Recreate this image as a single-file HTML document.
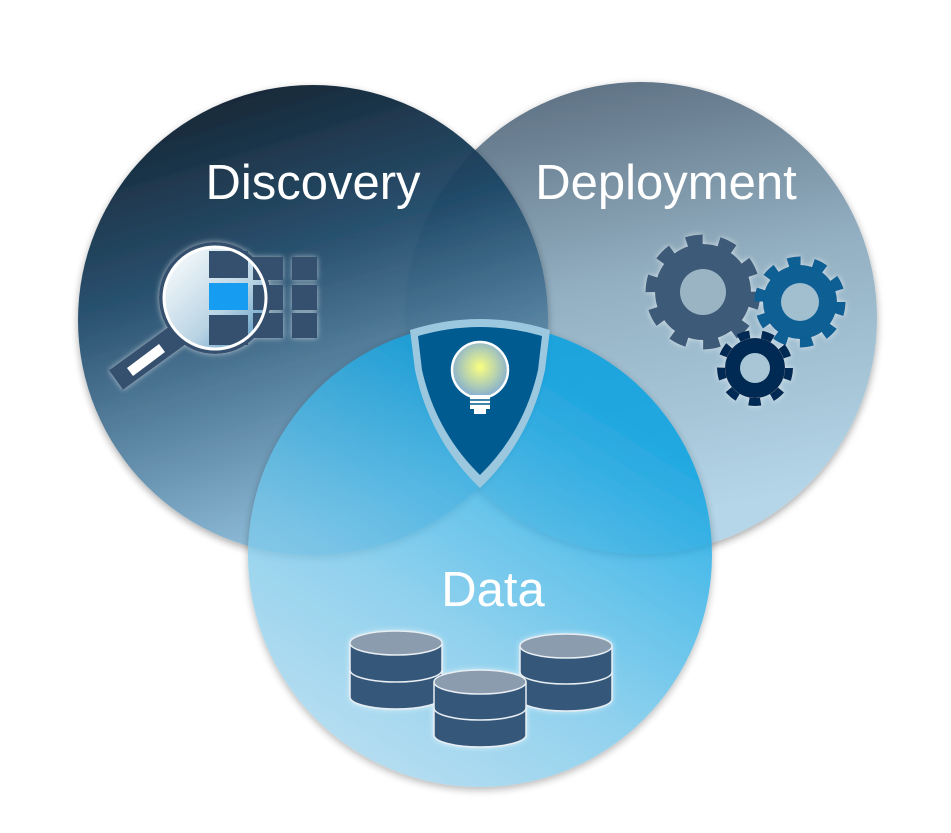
<!DOCTYPE html>
<html><head><style>body{margin:0;background:#fff}svg{display:block}text{font-family:"Liberation Sans",sans-serif;fill:#fff}</style></head><body>
<svg width="951" height="833" viewBox="0 0 951 833">
<defs>
<linearGradient id="gA" x1="0" y1="0" x2="0.3" y2="1"><stop offset="0" stop-color="#03101b"/><stop offset="0.45" stop-color="#1f4868"/><stop offset="1" stop-color="#86b6d4"/></linearGradient>
<linearGradient id="gB" x1="0" y1="0" x2="0.2" y2="1"><stop offset="0" stop-color="#56687a"/><stop offset="0.5" stop-color="#93b0c2"/><stop offset="1" stop-color="#b4d6e8"/></linearGradient>
<linearGradient id="gC" x1="0.8" y1="0.2" x2="0.3" y2="1"><stop offset="0" stop-color="#00a0e2"/><stop offset="0.6" stop-color="#74c6ea"/><stop offset="1" stop-color="#a6d6ee"/></linearGradient>
<radialGradient id="bulb" cx="0.5" cy="0.45" r="0.5"><stop offset="0" stop-color="#faff80"/><stop offset="1" stop-color="#8cb4cc"/></radialGradient>
<linearGradient id="lens" x1="0" y1="0" x2="1" y2="1"><stop offset="0" stop-color="#fff"/><stop offset="0.6" stop-color="#b9d4e4"/><stop offset="1" stop-color="#4b8fbd"/></linearGradient>
<filter id="sh" x="-20%" y="-20%" width="140%" height="140%"><feDropShadow dx="0" dy="3" stdDeviation="4" flood-color="#000" flood-opacity="0.35"/></filter>
<filter id="gl"><feDropShadow dx="0" dy="0" stdDeviation="3" flood-color="#fff" flood-opacity="0.6"/></filter>
</defs>
<circle cx="641" cy="318" r="236" fill="url(#gB)" filter="url(#sh)"/>
<circle cx="313" cy="320" r="235" fill="url(#gA)" opacity="0.95" filter="url(#sh)"/>
<circle cx="480" cy="555" r="232" fill="url(#gC)" opacity="0.8" filter="url(#sh)"/>
<text x="313" y="199" font-size="49" text-anchor="middle">Discovery</text>
<text x="666" y="199" font-size="49" text-anchor="middle">Deployment</text>
<text x="493" y="606" font-size="49" text-anchor="middle">Data</text>
<!-- magnifier -->
<g filter="url(#gl)">
<rect x="253" y="257" width="30" height="23" fill="#34506e"/><rect x="292" y="257" width="25" height="23" fill="#34506e"/>
<rect x="253" y="285" width="30" height="25" fill="#34506e"/><rect x="292" y="285" width="25" height="25" fill="#34506e"/>
<rect x="253" y="313" width="30" height="25" fill="#34506e"/><rect x="292" y="313" width="25" height="25" fill="#34506e"/>
<line x1="116" y1="380" x2="178" y2="335" stroke="#34506e" stroke-width="24"/>
<line x1="130" y1="372" x2="162" y2="348" stroke="#fff" stroke-width="10"/>
<circle cx="215" cy="298" r="56" fill="#34506e"/>
<circle cx="215" cy="298" r="50" fill="url(#lens)"/>
<rect x="209" y="251" width="39" height="27" fill="#34506e"/>
<rect x="209" y="283" width="39" height="27" fill="#159cf0"/>
<rect x="209" y="315" width="39" height="30" fill="#34506e"/>
<rect x="253" y="257" width="14" height="23" fill="#34506e"/><rect x="253" y="285" width="14" height="25" fill="#34506e"/><rect x="253" y="313" width="12" height="20" fill="#34506e"/>
<circle cx="215" cy="298" r="51" fill="none" stroke="#fff" stroke-width="3"/>
</g>
<!-- shield -->
<path d="M410 330 Q480 308 550 330 L545 370 Q530 440 480 488 Q430 440 415 370 Z" fill="#9cc8df"/>
<path d="M418 336 Q480 318 542 336 L538 370 Q524 432 480 475 Q436 432 422 370 Z" fill="#005c90"/>
<circle cx="480" cy="370" r="28" fill="url(#bulb)" stroke="#fff" stroke-width="2.5"/>
<rect x="470" y="395" width="20" height="14" fill="#fff"/>
<line x1="470" y1="404" x2="490" y2="404" stroke="#005c90" stroke-width="1.5"/>
<line x1="470" y1="400" x2="490" y2="400" stroke="#005c90" stroke-width="1.5"/>
<rect x="474" y="409" width="12" height="5" fill="#fff"/>
<!-- gears -->
<g filter="url(#gl)">
<circle cx="703" cy="292" r="48" fill="#3e5a78"/><circle cx="703" cy="292" r="52" fill="none" stroke="#3e5a78" stroke-width="11" stroke-dasharray="16.3 16.3"/><circle cx="703" cy="292" r="23" fill="#9ab4c3"/>
<circle cx="800" cy="302" r="37" fill="#075f94"/><circle cx="800" cy="302" r="41" fill="none" stroke="#075f94" stroke-width="9" stroke-dasharray="12.9 12.9"/><circle cx="800" cy="302" r="19" fill="#a2bfcf"/>
<circle cx="755" cy="368" r="30" fill="#062a52"/><circle cx="755" cy="368" r="34" fill="none" stroke="#062a52" stroke-width="8" stroke-dasharray="11.9 11.9"/><circle cx="755" cy="368" r="15" fill="#a8c6d6"/>
</g>
<!-- databases -->
<g filter="url(#gl)" stroke="#e8eef3" stroke-width="1.5">
<g><path d="M350 643 V697 A46 12 0 0 0 442 697 V643" fill="#34587a"/><path d="M350 670 A46 12 0 0 0 442 670" fill="none"/><ellipse cx="396" cy="643" rx="46" ry="12" fill="#8a9cad"/></g>
<g><path d="M520 646 V699 A46 12 0 0 0 612 699 V646" fill="#34587a"/><path d="M520 672 A46 12 0 0 0 612 672" fill="none"/><ellipse cx="566" cy="646" rx="46" ry="12" fill="#8a9cad"/></g>
<g><path d="M434 682 V735 A46 12 0 0 0 526 735 V682" fill="#34587a"/><path d="M434 708 A46 12 0 0 0 526 708" fill="none"/><ellipse cx="480" cy="682" rx="46" ry="12" fill="#8a9cad"/></g>
</g>
</svg>
</body></html>
